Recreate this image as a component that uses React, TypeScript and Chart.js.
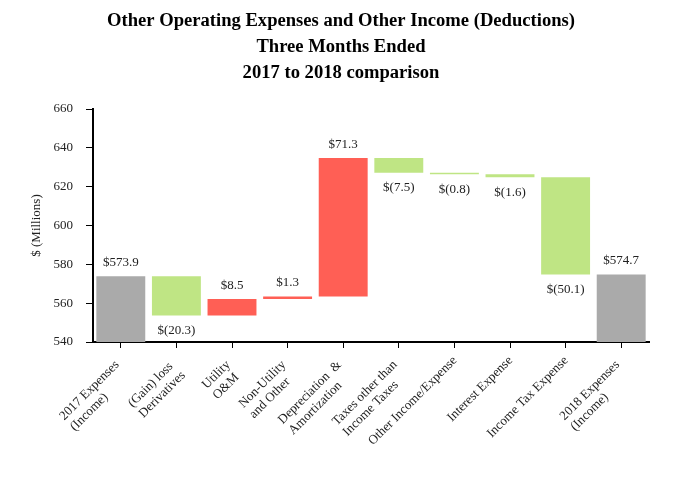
import React, { useEffect, useRef } from 'react';
import { Chart, registerables } from 'chart.js';

Chart.register(...registerables);

const categories: string[][] = [
  ['2017 Expenses', '(Income)'],
  ['(Gain) loss', 'Derivatives'],
  ['Utility', 'O&M'],
  ['Non-Utility', 'and Other'],
  ['Depreciation  &', 'Amortization'],
  ['Taxes other than', 'Income Taxes'],
  ['Other Income/Expense'],
  ['Interest Expense'],
  ['Income Tax Expense'],
  ['2018 Expenses', '(Income)'],
];
const startTotal = 573.9;
const changes = [-20.3, 8.5, 1.3, 71.3, -7.5, -0.8, -1.6, -50.1];
const endTotal = 574.7;

const yMin = 540;
const yMax = 660;
const yStep = 20;

const titleLines = [
  'Other Operating Expenses and Other Income (Deductions)',
  'Three Months Ended',
  '2017 to 2018 comparison',
];
const yAxisTitle = '$ (Millions)';

const GRAY = 'rgb(170,170,170)';
const GREEN = 'rgb(191,229,132)';
const RED = 'rgb(255,95,85)';
const SERIF = '"Liberation Serif", "Times New Roman", serif';

// build floating ranges from the values
const ranges: [number, number][] = [];
const labelValues: number[] = [];
const colors: string[] = [];
ranges.push([yMin, startTotal]);
labelValues.push(startTotal);
colors.push(GRAY);
let running = startTotal;
changes.forEach((c) => {
  ranges.push([running, running + c]);
  labelValues.push(c);
  colors.push(c < 0 ? GREEN : RED);
  running += c;
});
ranges.push([yMin, endTotal]);
labelValues.push(endTotal);
colors.push(GRAY);

const fmt = (v: number) => (v < 0 ? `$(${Math.abs(v).toFixed(1)})` : `$${v.toFixed(1)}`);

const valueLabels = {
  id: 'valueLabels',
  afterDatasetsDraw(chart: any) {
    const { ctx } = chart;
    const meta = chart.getDatasetMeta(0);
    const ys = chart.scales.y;
    ctx.save();
    ctx.font = `13px ${SERIF}`;
    ctx.fillStyle = '#222';
    ctx.textAlign = 'center';
    ctx.textBaseline = 'middle';
    meta.data.forEach((bar: any, i: number) => {
      const v = labelValues[i];
      const lo = Math.min(ranges[i][0], ranges[i][1]);
      const hi = Math.max(ranges[i][0], ranges[i][1]);
      const y = v < 0 ? ys.getPixelForValue(lo) + 15 : ys.getPixelForValue(hi) - 14;
      ctx.fillText(fmt(v), bar.x, y);
    });
    ctx.restore();
  },
};

// rotated, left-aligned multi-line category labels (block's top-right near the tick)
const categoryLabels = {
  id: 'categoryLabels',
  afterDraw(chart: any) {
    const { ctx } = chart;
    const xs = chart.scales.x;
    const lh = 15;
    ctx.save();
    ctx.font = `13px ${SERIF}`;
    ctx.fillStyle = '#222';
    ctx.textAlign = 'left';
    ctx.textBaseline = 'top';
    categories.forEach((lines, i) => {
      const px = xs.getPixelForTick(i);
      const w = Math.max(...lines.map((l) => ctx.measureText(l).width));
      const extra = lines.length > 1 ? 6 : 0;
      ctx.save();
      ctx.translate(px - 4, xs.top + 12);
      ctx.rotate(-Math.PI / 4);
      lines.forEach((l, j) => ctx.fillText(l, -w - extra, j * lh));
      ctx.restore();
    });
    ctx.restore();
  },
};

export default function App() {
  const ref = useRef<HTMLCanvasElement | null>(null);
  useEffect(() => {
    if (!ref.current) return;
    const chart = new Chart(ref.current, {
      type: 'bar',
      data: {
        labels: categories.map((c) => c.join(' ')),
        datasets: [
          {
            data: ranges as any,
            backgroundColor: colors,
            borderWidth: 0,
            barPercentage: 0.88,
            categoryPercentage: 1,
            yAxisID: 'y',
          },
        ],
      },
      options: {
        animation: false,
        responsive: false,
        maintainAspectRatio: false,
        layout: { padding: 0 },
        plugins: {
          legend: { display: false },
          tooltip: { enabled: false },
          title: {
            display: true,
            text: titleLines,
            color: '#000',
            font: { family: SERIF, size: 18.6, weight: 'bold', lineHeight: 26 / 18.6 },
            padding: { top: 8, bottom: 23 },
          },
        },
        scales: {
          x: {
            grid: { display: true, offset: false, drawOnChartArea: false, drawTicks: true, tickLength: 6, color: '#000', lineWidth: 1 },
            border: { display: true, color: '#000', width: 2 },
            ticks: { display: false, autoSkip: false },
            afterFit: (s: any) => {
              s.height = 138;
            },
          },
          y: {
            min: yMin,
            max: yMax,
            grid: { display: true, drawOnChartArea: false, drawTicks: true, tickLength: 7, color: '#000', lineWidth: 1 },
            border: { display: true, color: '#000', width: 2 },
            ticks: {
              stepSize: yStep,
              color: '#222',
              font: { family: SERIF, size: 13 },
              padding: 13,
            },
            title: {
              display: true,
              text: yAxisTitle,
              color: '#222',
              font: { family: SERIF, size: 13 },
              padding: { top: 29, bottom: 0 },
            },
            afterFit: (s: any) => {
              s.width = 93;
            },
          },
          yRight: {
            position: 'right',
            display: true,
            min: yMin,
            max: yMax,
            grid: { display: false, drawTicks: false },
            border: { display: false },
            ticks: { display: false },
            afterFit: (s: any) => {
              s.width = 33;
            },
          },
        },
      },
      plugins: [valueLabels, categoryLabels],
    });
    return () => chart.destroy();
  }, []);
  return (
    <div style={{ position: 'absolute', left: 0, top: 0, width: 682, height: 480, background: '#fff' }}>
      <canvas ref={ref} width={682} height={480} style={{ width: 682, height: 480 }} />
    </div>
  );
}
